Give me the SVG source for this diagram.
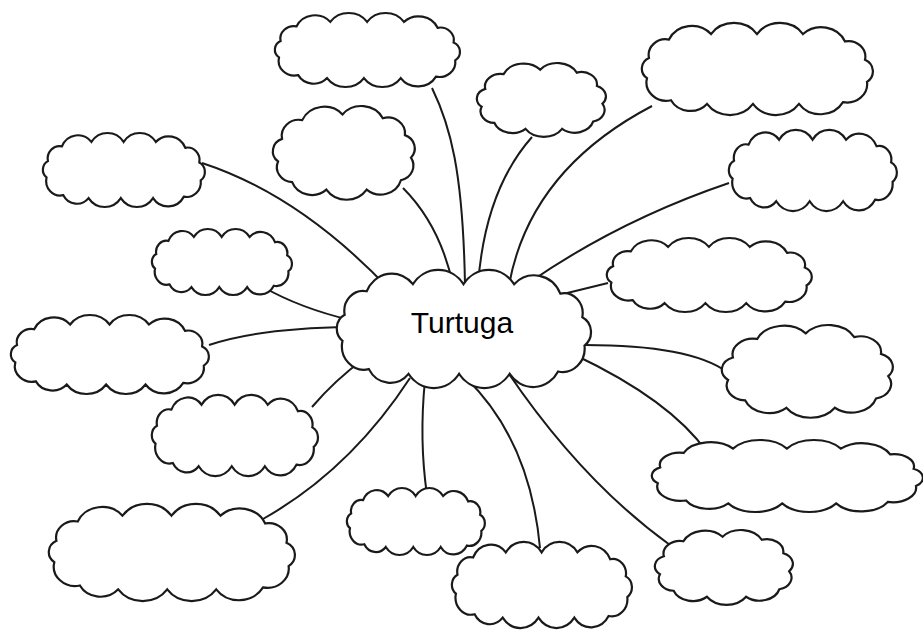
<svg xmlns="http://www.w3.org/2000/svg" width="923" height="630" viewBox="0 0 923 630">
<style>
.cl{fill:#fff;stroke:#1a1a1a;stroke-width:2.2;vector-effect:non-scaling-stroke;stroke-miterlimit:3}
.ln{fill:none;stroke:#1a1a1a;stroke-width:2}
.lbl{font-family:"Comic Sans MS","Liberation Sans",sans-serif;font-size:30px;fill:#000;text-anchor:middle}
</style>
<defs>
<path id="cw" class="cl" d="M8,60 A13,13 0 0 1 10,38 A17,17 0 0 1 30,18 A25,25 0 0 1 72,12 A28,28 0 0 1 118,12 A28,28 0 0 1 164,12 A26,26 0 0 1 206,20 A17,17 0 0 1 226,40 A14,14 0 0 1 228,64 A20,20 0 0 1 204,86 A26,26 0 0 1 160,88 A28,28 0 0 1 114,88 A28,28 0 0 1 68,88 A22,22 0 0 1 32,84 A20,20 0 0 1 8,60 Z"/>
<path id="cc" class="cl" d="M8,60 A14,14 0 0 1 12,36 A17,17 0 0 1 32,16 A24,24 0 0 1 72,10 A24,24 0 0 1 112,14 A17,17 0 0 1 134,32 A15,15 0 0 1 140,56 A16,16 0 0 1 130,80 A21,21 0 0 1 96,90 A24,24 0 0 1 56,90 A21,21 0 0 1 22,82 A16,16 0 0 1 8,60 Z"/>
</defs>
<rect width="923" height="630" fill="#fff"/>
<g id="connectors">
<path class="ln" d="M432,88 C450,125 463,170 465,285"/>
<path class="ln" d="M403,188 Q440,225 453,285"/>
<path class="ln" d="M202,163 Q300,195 390,290"/>
<path class="ln" d="M263,287 Q300,308 350,320"/>
<path class="ln" d="M209,345 Q260,328 350,327"/>
<path class="ln" d="M312,407 Q335,380 365,358"/>
<path class="ln" d="M263,519 Q350,470 410,378"/>
<path class="ln" d="M427,495 Q419,440 425,380"/>
<path class="ln" d="M532,137 Q485,190 478,285"/>
<path class="ln" d="M652,106 Q530,170 509,285"/>
<path class="ln" d="M729,183 Q620,220 530,282"/>
<path class="ln" d="M608,283 L555,296"/>
<path class="ln" d="M727,372 Q690,345 585,345"/>
<path class="ln" d="M707,452 Q670,400 575,355"/>
<path class="ln" d="M670,545 Q580,480 505,368"/>
<path class="ln" d="M540,548 Q530,440 466,378"/>
</g>
<g id="n1"><use href="#cw" transform="matrix(0.801 0 0 0.74 272.6 13)"/></g>
<g id="n2"><use href="#cc" transform="matrix(1.007 0 0 0.94 270 105.06)"/></g>
<g id="n3"><use href="#cw" transform="matrix(0.701 0 0 0.74 40.9 133)"/></g>
<g id="n4"><use href="#cw" transform="matrix(0.606 0 0 0.66 150.2 229)"/></g>
<g id="n5"><use href="#cc" transform="matrix(0.915 0 0 0.74 474.3 62.26)"/></g>
<g id="n6"><use href="#cw" transform="matrix(1.0 0 0 0.92 639 23)"/></g>
<g id="n7"><use href="#cw" transform="matrix(0.727 0 0 0.81 726.8 130)"/></g>
<g id="n8"><use href="#cw" transform="matrix(0.887 0 0 0.74 604.3 238)"/></g>
<g id="n9"><use href="#cw" transform="matrix(0.857 0 0 0.79 8.43 315)"/></g>
<g id="n10"><use href="#cw" transform="matrix(0.719 0 0 0.81 149.8 395)"/></g>
<g id="n11"><use href="#cw" transform="matrix(1.065 0 0 0.97 45.8 504)"/></g>
<g id="n12"><use href="#cw" transform="matrix(0.597 0 0 0.67 345.2 488)"/></g>
<g id="n13"><use href="#cw" transform="matrix(0.779 0 0 0.86 449.7 542)"/></g>
<g id="n14"><use href="#cc" transform="matrix(0.979 0 0 0.75 652.1 529.25)"/></g>
<g id="n15"><use href="#cw" transform="matrix(1.173 0 0 0.72 648.5 440)"/></g>
<g id="n16"><use href="#cc" transform="matrix(1.213 0 0 0.93 718.4 324.07)"/></g>
<g id="center"><use href="#cw" transform="matrix(1.1 0 0 1.18 333.7 270)"/>
<text class="lbl" x="462" y="333">Turtuga</text></g>
</svg>
